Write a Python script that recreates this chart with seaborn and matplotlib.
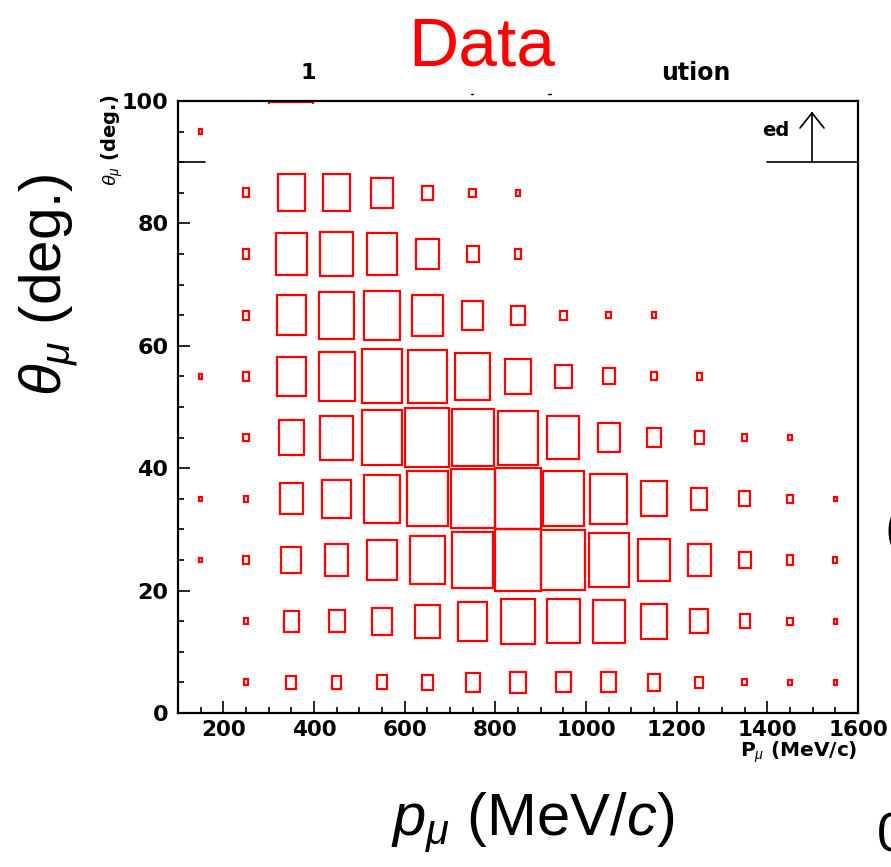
import numpy as np
import matplotlib
matplotlib.use('Agg')
import matplotlib.pyplot as plt
from matplotlib.patches import Rectangle
from matplotlib.ticker import MultipleLocator
import seaborn as sns

# bin centres of the 2D histogram
p_centers = [150, 250, 350, 450, 550, 650, 750, 850, 950, 1050, 1150, 1250, 1350, 1450, 1550]
theta_centers = [5, 15, 25, 35, 45, 55, 65, 75, 85, 95]

# relative box size per bin (1 = full bin), one list per theta row
row_05 = [0, 0.10, 0.22, 0.20, 0.23, 0.24, 0.31, 0.35, 0.33, 0.33, 0.27, 0.18, 0.10, 0.07, 0.07]
row_15 = [0, 0.10, 0.34, 0.35, 0.44, 0.54, 0.64, 0.74, 0.72, 0.70, 0.57, 0.40, 0.22, 0.12, 0.08]
row_25 = [0.07, 0.12, 0.44, 0.52, 0.64, 0.77, 0.91, 1.00, 0.97, 0.88, 0.69, 0.52, 0.26, 0.15, 0.09]
row_35 = [0.07, 0.10, 0.51, 0.63, 0.79, 0.90, 0.97, 1.00, 0.90, 0.81, 0.57, 0.36, 0.24, 0.14, 0.07]
row_45 = [0, 0.12, 0.56, 0.72, 0.90, 0.97, 0.93, 0.88, 0.70, 0.48, 0.32, 0.20, 0.12, 0.07, 0]
row_55 = [0.07, 0.15, 0.64, 0.79, 0.88, 0.87, 0.77, 0.58, 0.38, 0.26, 0.13, 0.11, 0, 0, 0]
row_65 = [0, 0.15, 0.65, 0.77, 0.80, 0.67, 0.47, 0.31, 0.15, 0.10, 0.10, 0, 0, 0, 0]
row_75 = [0, 0.15, 0.68, 0.73, 0.68, 0.50, 0.27, 0.15, 0, 0, 0, 0, 0, 0, 0]
row_85 = [0, 0.15, 0.60, 0.61, 0.50, 0.23, 0.14, 0.09, 0, 0, 0, 0, 0, 0, 0]
row_95 = [0.08, 0, 0.97, 0, 0, 0, 0, 0, 0, 0, 0, 0, 0, 0, 0]

x_ticks = [200, 400, 600, 800, 1000, 1200, 1400, 1600]
y_ticks = [0, 20, 40, 60, 80, 100]

p_width = 100
theta_width = 10

sns.set_theme(style='white')
plt.rcParams['font.family'] = ['Liberation Sans', 'DejaVu Sans']
plt.rcParams['mathtext.fontset'] = 'custom'
plt.rcParams['mathtext.rm'] = 'Liberation Sans'
plt.rcParams['mathtext.it'] = 'Liberation Sans:italic'
plt.rcParams['mathtext.bf'] = 'Liberation Sans:bold'
for key in ['text.color', 'axes.labelcolor', 'xtick.color', 'ytick.color', 'axes.edgecolor']:
    plt.rcParams[key] = 'black'

W, H = 891, 867
fig = plt.figure(figsize=(W / 100, H / 100), dpi=100)

def fx(px):
    return px / W

def fy(py):
    return 1 - py / H

L, R, T, B = 178, 858, 101, 713
ax = fig.add_axes([fx(L), fy(B), (R - L) / W, (B - T) / H])

def axc(px, py):
    return ((px - L) / (R - L), (B - py) / (B - T))

grid = np.array([row_05, row_15, row_25, row_35, row_45,
                 row_55, row_65, row_75, row_85, row_95])

# box plot: one hollow rectangle per bin, scaled by content
for i, th in enumerate(theta_centers):
    f = grid[i]
    keep = f > 0
    xs = np.array(p_centers)[keep]
    fs = f[keep]
    ax.bar(xs, fs * theta_width, width=fs * p_width, bottom=th - fs * theta_width / 2,
           fill=False, edgecolor='#ff0000', linewidth=1.6, align='center', zorder=1)

ax.set_xlim(100, 1600)
ax.set_ylim(0, 100)
ax.set_xticks(x_ticks)
ax.set_yticks(y_ticks)
ax.xaxis.set_minor_locator(MultipleLocator(50))
ax.yaxis.set_minor_locator(MultipleLocator(5))
ax.tick_params(which='both', direction='in', color='black', width=1.2,
               bottom=True, left=True, top=False, right=False)
ax.tick_params(which='major', length=8.5)
ax.tick_params(which='minor', length=4)
ax.tick_params(axis='x', pad=5, labelsize=15.5, labelcolor='black')
ax.tick_params(axis='y', pad=7, labelsize=16, labelcolor='black')
for lab in ax.get_xticklabels() + ax.get_yticklabels():
    lab.set_fontfamily('DejaVu Sans')
    lab.set_fontweight('bold')
for sp in ax.spines.values():
    sp.set_color('black')
    sp.set_linewidth(1.6)
ax.set_facecolor('white')
ax.grid(False)

# white patch over the old legend / title area
x0, y0 = axc(205, 164)
x1, y1 = axc(767, 104)
ax.add_patch(Rectangle((x0, y0), x1 - x0, y1 - y0, transform=ax.transAxes,
                       facecolor='white', edgecolor='none', zorder=2))

# leftover legend line and arrow
for seg in [((178, 162), (205, 162)), ((767, 162), (858, 162)),
            ((812, 162), (812, 113)), ((800, 128), (812, 113)), ((812, 113), (824, 128))]:
    (ax_a, ay_a), (ax_b, ay_b) = axc(*seg[0]), axc(*seg[1])
    ax.plot([ax_a, ax_b], [ay_a, ay_b], color='black', lw=1.2,
            transform=ax.transAxes, clip_on=False, zorder=4)

fig.text(fx(789), fy(131), 'ed', ha='right', va='center', fontsize=14,
         fontweight='bold', family='DejaVu Sans')

# remnants of the original title
fig.text(fx(308), fy(73), '1', ha='center', va='center', fontsize=16,
         fontweight='bold', family='DejaVu Sans')
fig.text(fx(696), fy(73), 'ution', ha='center', va='center', fontsize=17,
         fontweight='bold', family='DejaVu Sans')
for cx in [472, 549]:
    fig.add_artist(plt.Line2D([fx(cx - 1.5), fx(cx + 1.5)], [fy(94), fy(94)],
                              color='black', lw=1))

# small ROOT axis titles
fig.text(fx(857), fy(752), r'P$_{\mu}$ (MeV/c)', ha='right', va='center',
         fontsize=14.5, fontweight='bold', family='DejaVu Sans')
fig.text(fx(112), fy(94), r'$\theta_{\mu}$ (deg.)', ha='right', va='center',
         rotation=90, rotation_mode='anchor', fontsize=14, fontweight='bold',
         family='DejaVu Sans')

# large slide labels
fig.text(fx(482), fy(66), 'Data', color='#ff0000', ha='center', va='baseline',
         fontsize=50)
fig.text(fx(533), fy(835), r'$p_{\mu}$ (MeV/$c$)', ha='center', va='baseline',
         fontsize=43)
fig.text(fx(62), fy(285), r'$\theta_{\mu}$ (deg.)', ha='center', va='baseline',
         rotation=90, rotation_mode='anchor', fontsize=42)
fig.text(fx(877), fy(852), '0', ha='left', va='baseline', fontsize=40)
fig.text(fx(884), fy(545), '(', ha='left', va='baseline', fontsize=40)

fig.savefig('out.png', dpi=100)
